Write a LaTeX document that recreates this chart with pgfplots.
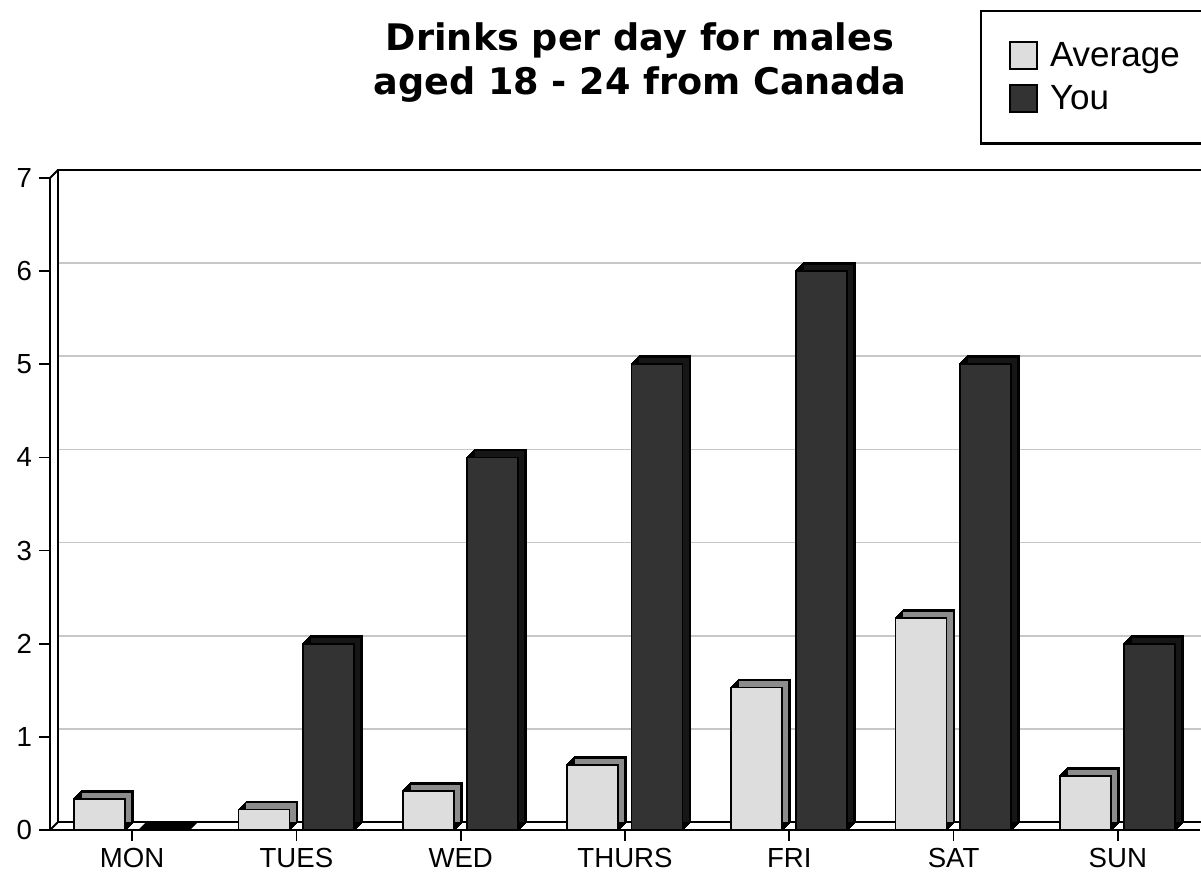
\documentclass[border=0pt]{standalone}
\usepackage{pgfplots}
\pgfplotsset{compat=1.18}
\usepackage{fontspec}
\setmainfont{Liberation Sans}
\newfontfamily\titlefont{DejaVu Sans}
\definecolor{avgfront}{HTML}{DDDDDD}
\definecolor{avgside}{HTML}{8C8C8C}
\definecolor{youfront}{HTML}{333333}
\definecolor{youside}{HTML}{161616}
\tikzset{
  side3d/.style={
    preaction={fill=#1, draw=black, line width=0.9pt, transform canvas={shift={(4pt,4pt)}}},
    preaction={fill=#1, transform canvas={shift={(0.5pt,0.5pt)}}},
    preaction={fill=#1, transform canvas={shift={(1pt,1pt)}}},
    preaction={fill=#1, transform canvas={shift={(1.5pt,1.5pt)}}},
    preaction={fill=#1, transform canvas={shift={(2pt,2pt)}}},
    preaction={fill=#1, transform canvas={shift={(2.5pt,2.5pt)}}},
    preaction={fill=#1, transform canvas={shift={(3pt,3pt)}}},
    preaction={fill=#1, transform canvas={shift={(3.5pt,3.5pt)}}},
  }
}
\begin{document}
\begin{tikzpicture}
\begin{axis}[
  scale only axis, width=575pt, height=326pt,
  xmin=-0.5, xmax=6.5, ymin=0, ymax=7,
  axis lines*=left,
  axis line style={line width=1pt, -},
  xtick={0,...,6},
  xticklabels={MON,TUES,WED,THURS,FRI,SAT,SUN},
  ytick={0,...,7},
  tick align=outside, major tick length=5.5pt,
  tick style={black, line width=0.9pt},
  ymajorgrids,
  major grid style={black!22, line width=0.9pt, xshift=4pt, yshift=4pt},
  tick label style={font=\fontsize{13.8}{16}\selectfont},
  /pgf/number format/assume math mode=true,
  title={Drinks per day for males\\aged 18 - 24 from Canada},
  title style={font=\titlefont\bfseries\fontsize{18.3}{22}\selectfont, align=center, at={(0.513,1.23)}, anchor=north},
  legend style={at={(0.8087,1.2577)}, anchor=north west, draw=black, line width=1.2pt,
    font=\fontsize{17.5}{21}\selectfont, inner xsep=14pt, inner ysep=13.5pt, row sep=4pt,
    /tikz/every odd column/.append style={column sep=4pt}},
  legend cell align=left,
  ybar, bar width=25.5pt,
  clip=false,
]
\draw[line width=1pt] ([xshift=4pt,yshift=4pt]rel axis cs:0,0) -- ([xshift=4pt,yshift=4pt]rel axis cs:0,1) -- ([xshift=4pt,yshift=4pt]rel axis cs:1,1);
\draw[line width=1pt] ([xshift=4pt,yshift=4pt]rel axis cs:0,0) -- ([xshift=4pt,yshift=4pt]rel axis cs:1,0);
\draw[line width=1pt] (rel axis cs:0,1) -- ([xshift=4pt,yshift=4pt]rel axis cs:0,1);
\draw[line width=1pt] (rel axis cs:0,0) -- ([xshift=4pt,yshift=4pt]rel axis cs:0,0);
\coordinate (bbsw) at ([xshift=-25pt,yshift=-21.5pt]rel axis cs:0,0);
\coordinate (bbne) at ([xshift=0.5pt,yshift=89pt]rel axis cs:1,1);
\addplot[forget plot, bar shift=-16.25pt, side3d=avgside, fill=avgfront, draw=black, line width=0.9pt]
  coordinates {(0,0.33) (1,0.22) (2,0.42) (3,0.70) (4,1.53) (5,2.28) (6,0.58)};
\addplot[forget plot, bar shift=16pt, side3d=youside, fill=youfront, draw=black, line width=0.9pt]
  coordinates {(0,0) (1,2) (2,4) (3,5) (4,6) (5,5) (6,2)};
\addlegendimage{legend image code/.code={\draw[fill=avgfront, draw=black, line width=0.9pt] (0pt,-6.5pt) rectangle (13.5pt,7pt);}}
\addlegendentry{\makebox[72pt][l]{Average}}
\addlegendimage{legend image code/.code={\draw[fill=youfront, draw=black, line width=0.9pt] (0pt,-6.5pt) rectangle (13.5pt,7pt);}}
\addlegendentry{You}
\end{axis}
\pgfresetboundingbox
\path (bbsw) rectangle (bbne);
\end{tikzpicture}
\end{document}
